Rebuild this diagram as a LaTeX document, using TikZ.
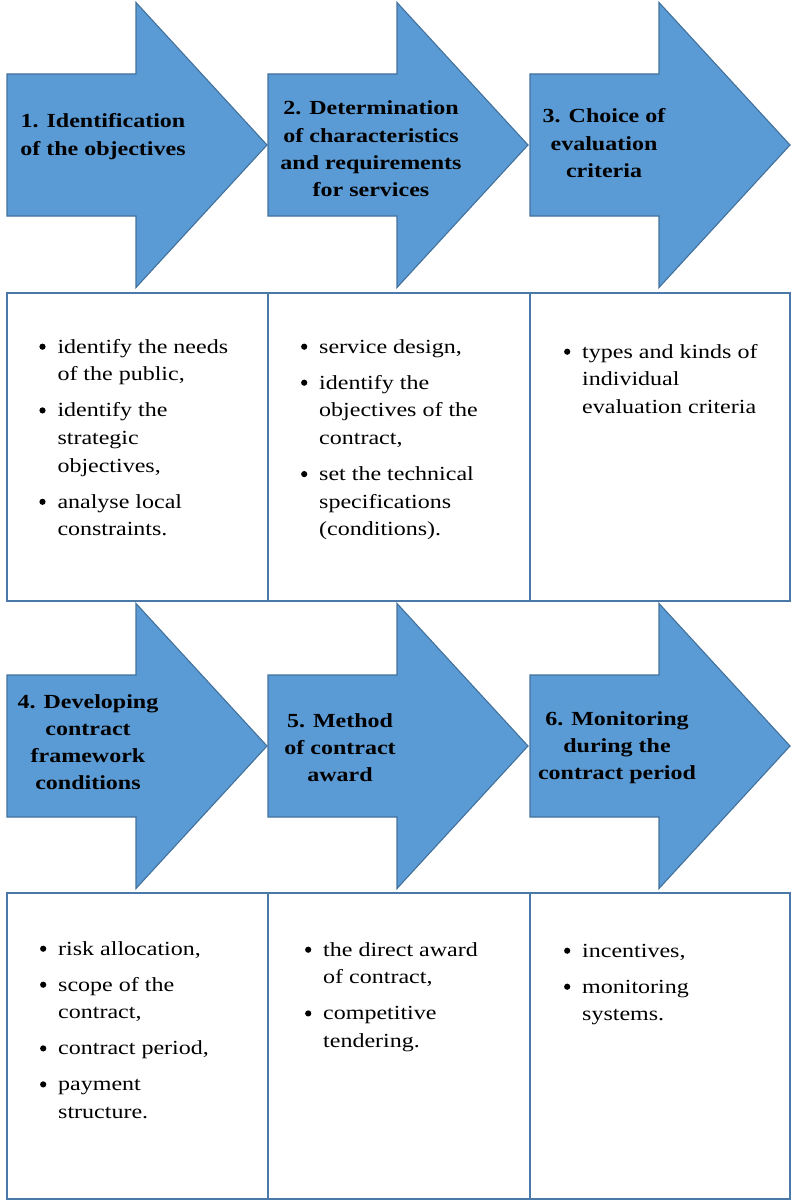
\documentclass[tikz,border=0pt]{standalone}
\usepackage{fontspec}
\setmainfont{Liberation Serif}[FakeStretch=1.2]

\definecolor{arrowblue}{HTML}{5B9BD5}
\definecolor{arrowedge}{HTML}{41719C}
\definecolor{celledge}{HTML}{4A78A8}

% round bullet dot, sitting on the baseline
\newcommand\bulletdot{\tikz[baseline=0pt,x=1pt,y=1pt]{\useasboundingbox (0,0) rectangle (7,7);
  \fill (3.5,6.3) circle (3.1pt);}}

% bullet item with hanging indent
\newlength\bulw
\setlength\bulw{18.5pt}
\newcommand\bul[1]{\par\hangindent=\bulw\hangafter=1\noindent\makebox[\bulw][l]{\bulletdot}#1\par}

\tikzset{
  x=1pt, y=-1pt,
  stagearrow/.pic={
    \path[fill=arrowblue, draw=arrowedge, line width=1.1pt, line join=miter]
      (0,-71) -- (129,-71) -- (129,-142.5) -- (260,0) -- (129,142.5) -- (129,71) -- (0,71) -- cycle;
  },
  cellbox/.style={draw=celledge, line width=1.8pt, fill=none, anchor=north west,
    inner sep=0pt, outer sep=0pt},
  heading/.style={anchor=base, inner sep=0pt, font=\fontsize{20}{27.3}\selectfont\bfseries},
  itemlist/.style={anchor=base west, inner sep=0pt},
}

\newcommand\headtext[1]{\begin{tabular}[t]{@{}c@{}}#1\end{tabular}}
\newcommand\listtext[1]{\begin{minipage}[t]{215pt}\fontsize{20}{27.7}\selectfont
  \rightskip=0pt plus 1fil\relax\setlength\parskip{8.3pt}\setlength\parindent{0pt}#1\end{minipage}}

\begin{document}
\begin{tikzpicture}
\useasboundingbox (0,0) rectangle (792,1201);

% ---- first row: stages 1-3 ----
\pic (a1) at (7,145) {stagearrow};
\pic (a2) at (268,145) {stagearrow};
\pic (a3) at (530,145) {stagearrow};

\node[heading] (h1) at (103,128) {\headtext{1. Identification\\of the objectives}};
\node[heading] (h2) at (371,115) {\headtext{2. Determination\\of characteristics\\and requirements\\for services}};
\node[heading] (h3) at (604,123) {\headtext{3. Choice of\\evaluation\\criteria}};

\node[cellbox, minimum width=261pt, minimum height=308pt] (b1) at (7,293) {};
\node[cellbox, minimum width=262pt, minimum height=308pt] (b2) at (268,293) {};
\node[cellbox, minimum width=260pt, minimum height=308pt] (b3) at (530,293) {};

\node[itemlist] (l1) at (38.8,353) {\listtext{%
  \bul{identify the needs\\of the public,}
  \bul{identify the\\strategic\\objectives,}
  \bul{analyse local\\constraints.}}};
\node[itemlist] (l2) at (300.5,353) {\listtext{%
  \bul{service design,}
  \bul{identify the\\objectives of the\\contract,}
  \bul{set the technical\\specifications\\(conditions).}}};
\node[itemlist] (l3) at (563.5,358) {\listtext{%
  \bul{types and kinds of\\individual\\evaluation criteria}}};

% ---- second row: stages 4-6 ----
\pic (a4) at (7,746) {stagearrow};
\pic (a5) at (268,746) {stagearrow};
\pic (a6) at (530,746) {stagearrow};

\node[heading] (h4) at (88,708) {\headtext{4. Developing\\contract\\framework\\conditions}};
\node[heading] (h5) at (340,727) {\headtext{5. Method\\of contract\\award}};
\node[heading] (h6) at (617,725) {\headtext{6. Monitoring\\during the\\contract period}};

\node[cellbox, minimum width=261pt, minimum height=306pt] (b4) at (7,893) {};
\node[cellbox, minimum width=262pt, minimum height=306pt] (b5) at (268,893) {};
\node[cellbox, minimum width=260pt, minimum height=306pt] (b6) at (530,893) {};

\node[itemlist] (l4) at (39.5,955) {\listtext{%
  \bul{risk allocation,}
  \bul{scope of the\\contract,}
  \bul{contract period,}
  \bul{payment\\structure.}}};
\node[itemlist] (l5) at (304.5,956) {\listtext{%
  \bul{the direct award\\of contract,}
  \bul{competitive\\tendering.}}};
\node[itemlist] (l6) at (563.5,957) {\listtext{%
  \bul{incentives,}
  \bul{monitoring\\systems.}}};
\end{tikzpicture}
\end{document}
